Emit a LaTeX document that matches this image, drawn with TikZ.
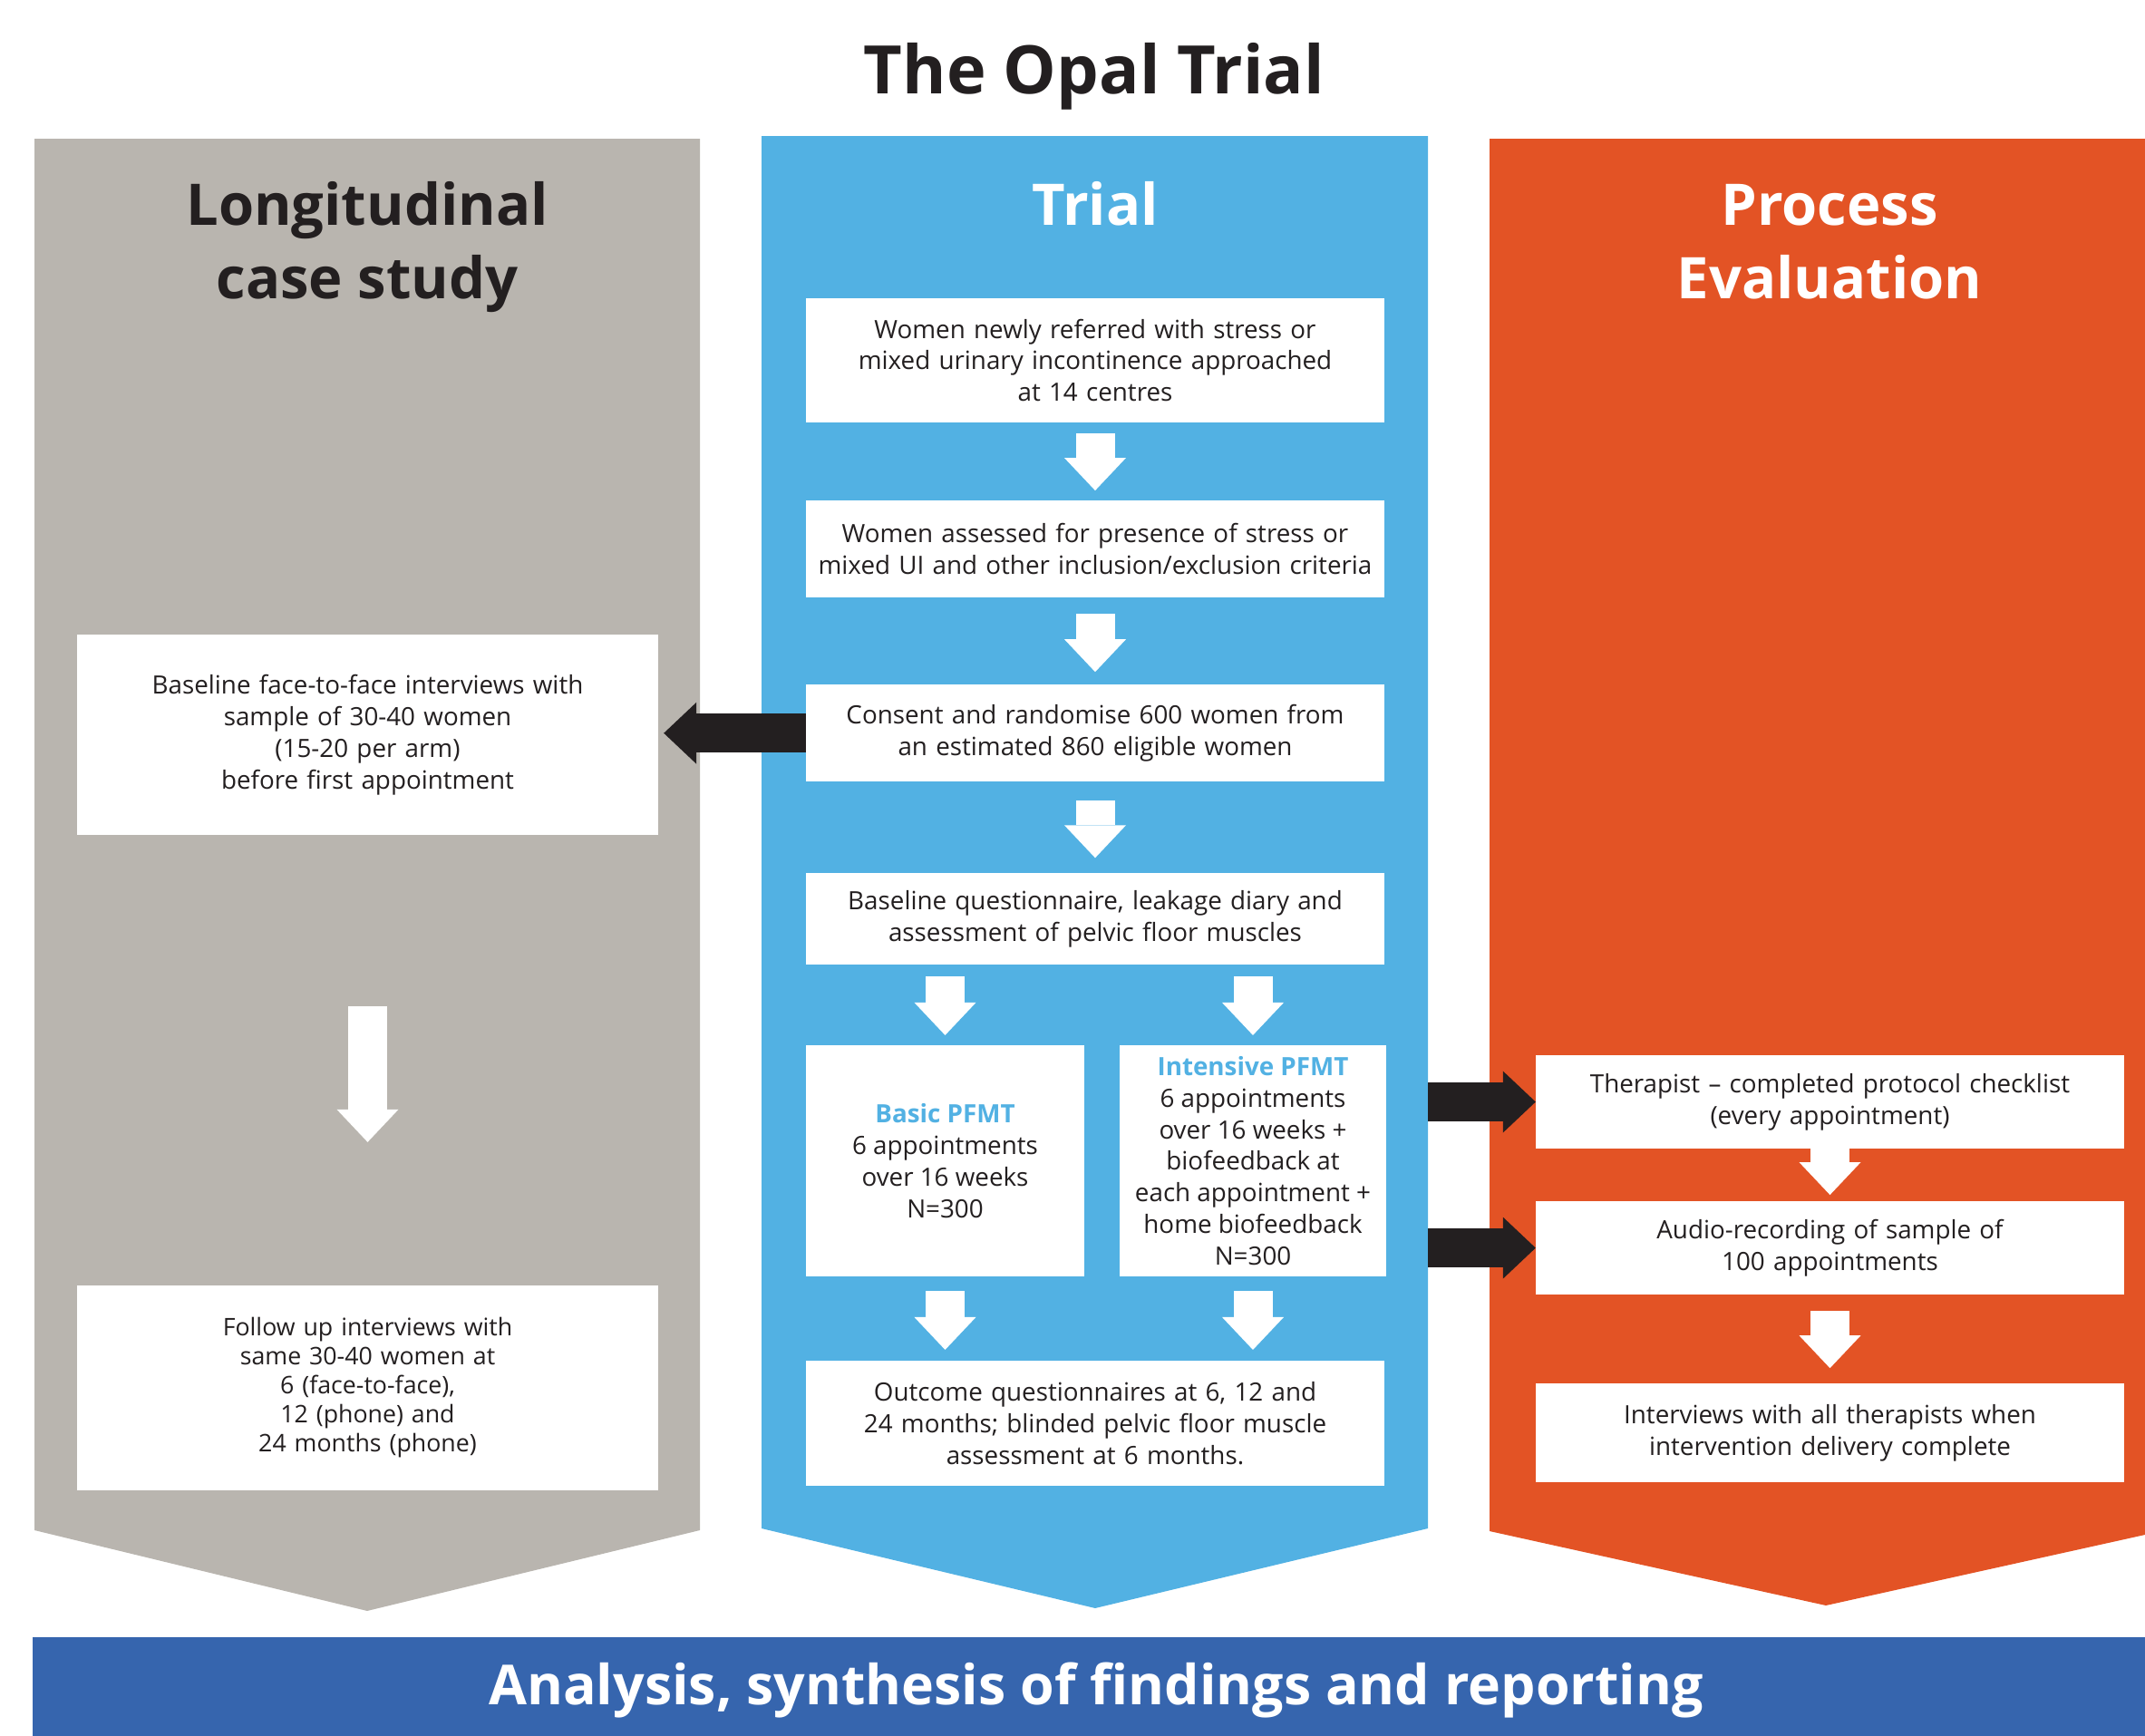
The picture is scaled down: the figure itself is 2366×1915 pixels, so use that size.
\documentclass[tikz,border=0pt]{standalone}
\usepackage{fontspec}
\setmainfont{Open Sans}
\usetikzlibrary{arrows.meta,positioning}

\definecolor{opgrey}{HTML}{B9B5AF}
\definecolor{opblue}{HTML}{52B1E3}
\definecolor{oporange}{HTML}{E35325}
\definecolor{opnavy}{HTML}{3665AE}
\definecolor{opdark}{HTML}{231F20}

\tikzset{
    box/.style={fill=white, text=opdark, align=center, inner sep=0pt, outer sep=0pt,
        font=\fontsize{7.9}{9.9}\selectfont},
    trialbox/.style={box, minimum width=6.38cm, text width=6.2cm},
    sidebox/.style={box, minimum width=6.41cm, text width=6.2cm},
    procbox/.style={box, minimum width=6.49cm, text width=6.3cm},
    heading/.style={align=center, anchor=base, font=\fontsize{18}{23}\selectfont\bfseries},
    wflow/.style={white, line width=0.43cm,
        -{Triangle[width=0.68cm, length=0.36cm, line width=0pt]}},
    kflow/.style={opdark, line width=0.43cm,
        -{Triangle[width=0.68cm, length=0.36cm, line width=0pt]}},
}

\begin{document}
\begin{tikzpicture}[x=0.01cm, y=-0.01cm]
    \useasboundingbox (0,0) rectangle (2366,1915);

    % columns
    \fill[opgrey] (38,153) -- (772,153) -- (772,1688) -- (405,1777) -- (38,1688) -- cycle;
    \fill[opblue] (840,150) -- (1575,150) -- (1575,1686) -- (1208,1774) -- (840,1686) -- cycle;
    \fill[oporange] (1643,153) -- (2366,153) -- (2366,1693) -- (2014,1771) -- (1643,1689) -- cycle;
    \fill[opnavy] (36,1806) rectangle (2366,1915);

    \node[anchor=base, text=opdark, font=\fontsize{21}{26}\selectfont\bfseries] (title) at (1207,103) {The Opal Trial};
    \node[heading, text=opdark] (hlong) at (405,329) {Longitudinal\\case study};
    \node[heading, text=white] (htrial) at (1208,248) {Trial};
    \node[heading, text=white] (hproc) at (2018,329) {Process\\Evaluation};
    \node[anchor=base, text=white, font=\fontsize{17.3}{21}\selectfont\bfseries] (report) at (1209,1880) {Analysis, synthesis of findings and reporting};

    % trial
    \node[trialbox, minimum height=1.37cm] (refer) at (1208,397.5) {Women newly referred with stress or\\mixed urinary incontinence approached\\at 14 centres};
    \node[trialbox, minimum height=1.07cm, below=0.86cm of refer] (assess) {Women assessed for presence of stress or\\mixed UI and other inclusion/exclusion criteria};
    \node[trialbox, minimum height=1.07cm, below=0.96cm of assess] (consent) {Consent and randomise 600 women from\\an estimated 860 eligible women};
    \node[trialbox, minimum height=1.01cm, below=1.01cm of consent] (measures) {Baseline questionnaire, leakage diary and\\assessment of pelvic floor muscles};
    \node[box, minimum width=3.07cm, minimum height=2.55cm] (basic) at (1042.5,1280.5) {{\bfseries\color{opblue}Basic PFMT}\\6 appointments\\over 16 weeks\\N=300};
    \node[box, minimum width=2.94cm, minimum height=2.55cm] (intensive) at (1382,1280.5) {{\bfseries\color{opblue}Intensive PFMT}\\6 appointments\\over 16 weeks +\\biofeedback at\\each appointment +\\home biofeedback\\N=300};
    \node[trialbox, minimum height=1.38cm] (outcome) at (1208,1570) {Outcome questionnaires at 6, 12 and\\24 months; blinded pelvic floor muscle\\assessment at 6 months.};

    % case study
    \node[sidebox, minimum height=2.21cm] (baseline) at (405.5,810.5) {Baseline face-to-face interviews with\\sample of 30-40 women\\(15-20 per arm)\\before first appointment};
    \node[sidebox, minimum height=2.26cm, font=\fontsize{7.6}{9.1}\selectfont] (follow) at (405.5,1531) {Follow up interviews with\\same 30-40 women at\\6 (face-to-face),\\12 (phone) and\\24 months (phone)};

    % process evaluation
    \node[procbox, minimum height=1.03cm] (therapist) at (2018.5,1215.5) {Therapist – completed protocol checklist\\(every appointment)};
    \node[procbox, minimum height=1.03cm, below=0.58cm of therapist] (audio) {Audio-recording of sample of\\100 appointments};
    \node[procbox, minimum height=1.09cm, below=0.98cm of audio] (interviews) {Interviews with all therapists when\\intervention delivery complete};

    \draw[wflow, shorten <=0.12cm, shorten >=0.11cm] (refer) -- (assess);
    \draw[wflow, shorten <=0.18cm, shorten >=0.14cm] (assess) -- (consent);
    \draw[wflow, shorten <=0.21cm, shorten >=0.17cm] (consent) -- (measures);
    \draw[wflow, shorten <=0.13cm, shorten >=0.11cm] (measures.south -| basic) -- (basic);
    \draw[wflow, shorten <=0.13cm, shorten >=0.11cm] (measures.south -| intensive) -- (intensive);
    \draw[wflow, shorten <=0.16cm, shorten >=0.12cm] (basic) -- (basic |- outcome.north);
    \draw[wflow, shorten <=0.16cm, shorten >=0.12cm] (intensive) -- (intensive |- outcome.north);

    \draw[wflow, shorten <=1.89cm, shorten >=1.58cm] (baseline) -- (follow);
    \draw[kflow, shorten >=0.06cm] (consent.west) -- (consent.west -| baseline.east);

    \draw[kflow, shorten <=0.46cm] (intensive.east |- therapist) -- (therapist.west);
    \draw[kflow, shorten <=0.46cm] (intensive.east |- audio) -- (audio.west);
    \draw[wflow, shorten >=0.07cm] (therapist) -- (audio);
    \draw[wflow, shorten <=0.18cm, shorten >=0.17cm] (audio) -- (interviews);
\end{tikzpicture}
\end{document}
